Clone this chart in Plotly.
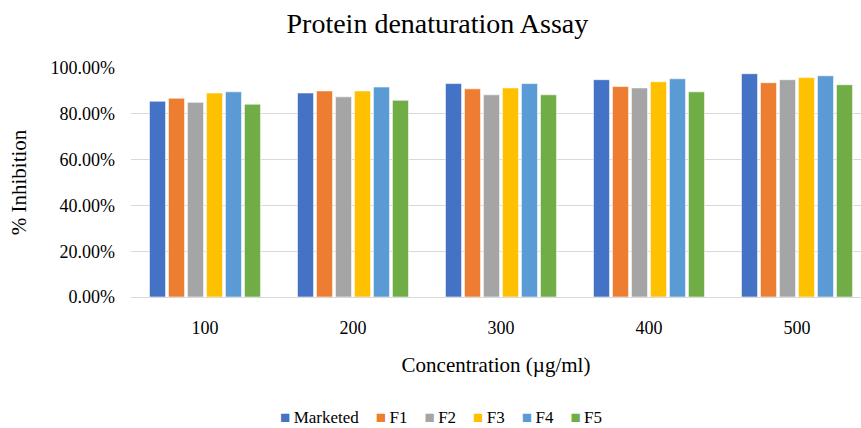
import plotly.graph_objects as go

# Concentrations (µg/ml) and % inhibition per formulation
concentrations = ["100", "200", "300", "400", "500"]
series_names = ["Marketed", "F1", "F2", "F3", "F4", "F5"]
marketed = [0.855, 0.891, 0.932, 0.949, 0.975]
f1 = [0.868, 0.900, 0.909, 0.919, 0.936]
f2 = [0.850, 0.874, 0.883, 0.913, 0.949]
f3 = [0.891, 0.900, 0.913, 0.940, 0.958]
f4 = [0.896, 0.917, 0.932, 0.953, 0.966]
f5 = [0.842, 0.859, 0.883, 0.896, 0.927]
colors = ["#4472C4", "#ED7D31", "#A5A5A5", "#FFC000", "#5B9BD5", "#70AD47"]

values = [marketed, f1, f2, f3, f4, f5]
x_pos = list(range(len(concentrations)))

FONT = "Liberation Serif, Times New Roman, serif"

fig = go.Figure()
for name, vals, col in zip(series_names, values, colors):
    fig.add_trace(go.Bar(
        x=x_pos, y=vals, name=name,
        marker=dict(color=col, line=dict(color="rgba(255,255,255,0.6)", width=1)),
        showlegend=False,
    ))

# Legend drawn as a single row of coloured squares with labels
legend_text = "&nbsp;&nbsp;&nbsp;&nbsp;".join(
    f"<span style='color:{c}'>■</span>&#8201;{n}" for n, c in zip(series_names, colors)
)
fig.add_annotation(
    text=legend_text, xref="paper", yref="paper",
    x=0.4247, y=-0.525, xanchor="center", yanchor="middle",
    showarrow=False, font=dict(family=FONT, size=17, color="#000000"),
)

fig.update_layout(
    width=861, height=428,
    margin=dict(l=131, r=0, t=68, b=131),
    paper_bgcolor="white", plot_bgcolor="white",
    barmode="group", bargap=0.23, bargroupgap=0.15,
    title=dict(text="Protein denaturation Assay", x=0.508, xanchor="center",
               y=0.945, yanchor="middle",
               font=dict(family=FONT, size=28, color="#000000")),
    font=dict(family=FONT, color="#000000"),
)
fig.update_xaxes(
    range=[-0.5, -0.5 + 730 / 148], tickvals=x_pos, ticktext=concentrations,
    ticks="outside", ticklen=14, tickcolor="rgba(0,0,0,0)",
    tickfont=dict(family=FONT, size=18, color="#000000"),
    showgrid=False, zeroline=False, showline=False,
    title=dict(text="Concentration (µg/ml)", standoff=20,
               font=dict(family=FONT, size=21, color="#000000")),
)
fig.update_yaxes(
    range=[0, 1.0], dtick=0.2, tickformat=".2%",
    showgrid=True, gridcolor="#D9D9D9", gridwidth=1,
    zeroline=True, zerolinecolor="#D9D9D9", zerolinewidth=1,
    ticks="", ticklabelstandoff=15,
    tickfont=dict(family=FONT, size=18, color="#000000"),
    title=dict(text="% Inhibition", standoff=18,
               font=dict(family=FONT, size=21, color="#000000")),
)

fig.write_html("out.html")
